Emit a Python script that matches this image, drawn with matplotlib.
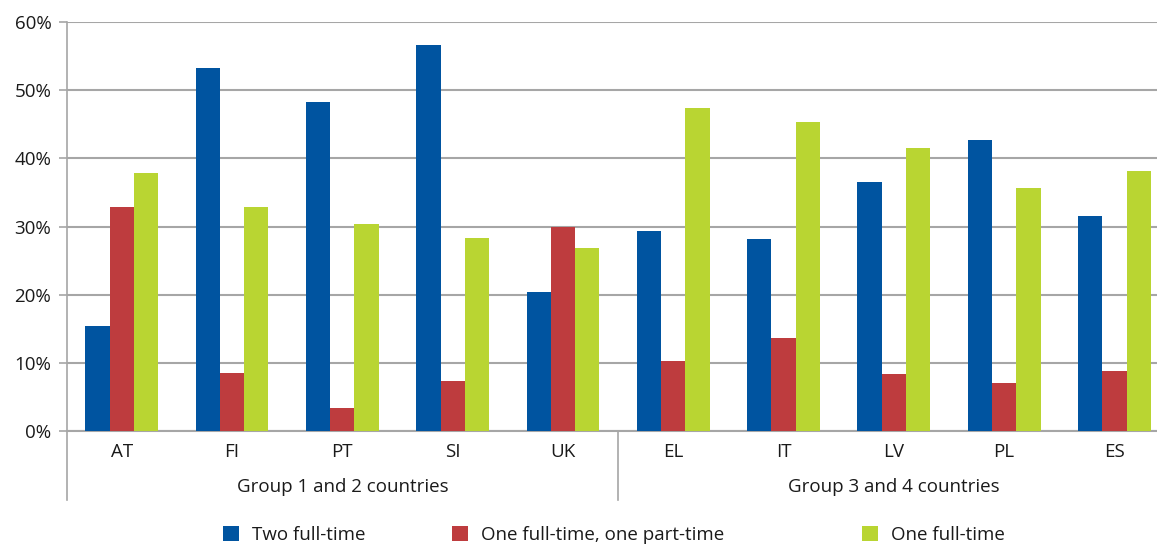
import matplotlib
matplotlib.use("Agg")
import matplotlib.pyplot as plt
from matplotlib.patches import Patch
import numpy as np

countries = ["AT", "FI", "PT", "SI", "UK", "EL", "IT", "LV", "PL", "ES"]
groups = ["Group 1 and 2 countries", "Group 3 and 4 countries"]
group_sizes = [5, 5]
series_names = ["Two full-time", "One full-time, one part-time", "One full-time"]
two_full = [15.4, 53.2, 48.3, 56.6, 20.4, 29.3, 28.1, 36.6, 42.7, 31.5]
one_full_one_part = [32.9, 8.5, 3.4, 7.3, 30.0, 10.2, 13.7, 8.3, 7.1, 8.8]
one_full = [37.8, 32.9, 30.3, 28.3, 26.8, 47.4, 45.4, 41.5, 35.7, 38.1]
yticks = [0, 10, 20, 30, 40, 50, 60]

colors = ["#0054A0", "#BE3C3E", "#B9D532"]
grid_c = "#A6A6A6"
txt_c = "#1a1a1a"

plt.rcParams['font.family'] = ['Open Sans', 'DejaVu Sans']
FS = 13.5

W, H = 1157, 546
fig = plt.figure(figsize=(W / 100, H / 100), dpi=100)
left, right, top, bottom = 66.6, 1169.6, 22, 431
ax = fig.add_axes([left / W, (H - bottom) / H, (right - left) / W, (bottom - top) / H])
ah = bottom - top

x = np.arange(len(countries))
bw = 0.22
for i, (vals, c) in enumerate(zip([two_full, one_full_one_part, one_full], colors)):
    ax.bar(x + (i - 1) * bw, vals, width=bw, color=c, edgecolor="none", zorder=3, label=series_names[i])

ax.set_xlim(-0.5, len(countries) - 0.5)
ax.set_ylim(0, 60)
ax.set_yticks(yticks)
ax.set_yticklabels([f"{v}%" for v in yticks], fontsize=FS, color=txt_c)
ax.yaxis.grid(True, color=grid_c, linewidth=1.5, zorder=0)
ax.tick_params(axis='y', length=6, width=1.2, color=grid_c, pad=5)
ax.set_xticks([])
for s in ["top", "right"]:
    ax.spines[s].set_visible(False)
ax.spines["left"].set_color(grid_c)
ax.spines["left"].set_linewidth(1.2)
ax.spines["bottom"].set_color(grid_c)
ax.spines["bottom"].set_linewidth(1.5)

trans = ax.get_xaxis_transform()
for xi, lab in zip(x, countries):
    ax.text(xi, -21 / ah, lab, transform=trans, ha="center", va="center", fontsize=FS, color=txt_c)
start = 0
bounds = [-0.5]
for g, n in zip(groups, group_sizes):
    center = start + (n - 1) / 2
    ax.text(center, -56 / ah, g, transform=trans, ha="center", va="center", fontsize=FS, color=txt_c)
    start += n
    bounds.append(start - 0.5)
for b in bounds[:-1]:
    ax.plot([b, b], [0, -69 / ah], transform=trans, color=grid_c, linewidth=1.2, clip_on=False)

leg_x = [215.5, 444.5, 854.5]
for name, c, lx in zip(series_names, colors, leg_x):
    fig.legend(handles=[Patch(facecolor=c, edgecolor="none")], labels=[name],
               loc="center left", bbox_to_anchor=(lx / W, (H - 535) / H), frameon=False,
               fontsize=FS, handlelength=0.85, handleheight=0.85, handletextpad=0.72,
               labelcolor=txt_c, borderaxespad=0, borderpad=0.4)

fig.savefig("out.png", dpi=100)
